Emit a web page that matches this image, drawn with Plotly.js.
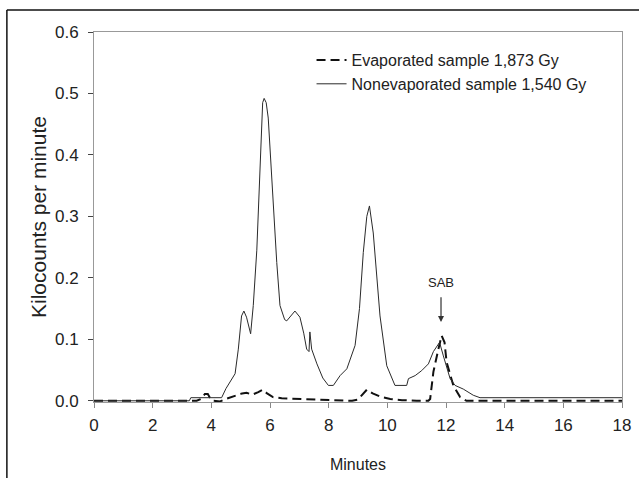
<!DOCTYPE html>
<html><head><meta charset="utf-8">
<script src="https://cdn.plot.ly/plotly-3.0.1.min.js"></script>
<style>html,body{margin:0;padding:0;background:#fff}#c{width:639px;height:478px}</style>
</head><body><div id="c"></div>
<script>
const solidName = "Nonevaporated sample 1,540 Gy";
const dashName = "Evaporated sample 1,873 Gy";
const solidX = [0, 3.25, 3.3, 4.35, 4.5, 4.69, 4.81, 4.92, 5.03, 5.11, 5.2, 5.34, 5.43, 5.55, 5.66, 5.75, 5.8, 5.87, 5.94, 6.06, 6.23, 6.34, 6.5, 6.57, 6.7, 6.85, 7.02, 7.15, 7.25, 7.33, 7.36, 7.42, 7.6, 7.8, 7.99, 8.16, 8.39, 8.62, 8.9, 9.05, 9.18, 9.3, 9.39, 9.52, 9.75, 9.98, 10.26, 10.66, 10.72, 10.95, 11.17, 11.4, 11.57, 11.74, 11.78, 11.91, 12.14, 12.31, 12.59, 12.93, 13.16, 18];
const solidY = [0, 0, 0.005, 0.005, 0.02, 0.036, 0.044, 0.084, 0.138, 0.146, 0.136, 0.109, 0.155, 0.245, 0.387, 0.485, 0.492, 0.485, 0.46, 0.36, 0.225, 0.155, 0.132, 0.130, 0.137, 0.146, 0.136, 0.11, 0.084, 0.08, 0.112, 0.084, 0.06, 0.037, 0.025, 0.025, 0.041, 0.052, 0.09, 0.15, 0.241, 0.3, 0.317, 0.273, 0.138, 0.057, 0.025, 0.025, 0.036, 0.041, 0.049, 0.06, 0.08, 0.092, 0.095, 0.073, 0.036, 0.025, 0.019, 0.009, 0.005, 0.005];
const dashX = [0, 3.5, 3.65, 3.78, 3.88, 3.95, 4.05, 4.3, 4.5, 4.8, 5.05, 5.2, 5.4, 5.6, 5.75, 5.9, 6.1, 6.4, 7.0, 8.0, 8.8, 9.0, 9.15, 9.3, 9.5, 9.8, 10.1, 10.5, 11.0, 11.4, 11.46, 11.57, 11.74, 11.85, 11.95, 12.02, 12.25, 12.48, 12.7, 18];
const dashY = [0, 0, 0.003, 0.011, 0.011, 0.005, 0, -0.001, 0.003, 0.008, 0.012, 0.013, 0.01, 0.014, 0.018, 0.012, 0.006, 0.004, 0.003, 0.001, 0.0, 0.002, 0.01, 0.018, 0.012, 0.006, 0.003, 0.001, 0.0, 0.0, 0.003, 0.047, 0.084, 0.106, 0.095, 0.063, 0.025, 0.006, 0.0, 0.0];
const xTicks = [0, 2, 4, 6, 8, 10, 12, 14, 16, 18];
const yTicks = [0, 0.1, 0.2, 0.3, 0.4, 0.5, 0.6];
const yTickText = ["0.0", "0.1", "0.2", "0.3", "0.4", "0.5", "0.6"];
const annText = "SAB";
const annX = 11.83, annY = 0.193, arrowTipY = 0.128, arrowTailY = 0.171;

const font = "Liberation Sans, Arial, sans-serif";
const traces = [
  {x: dashX, y: dashY, name: dashName, mode: "lines", line: {color: "#111", width: 2, dash: "9px,5px"}},
  {x: solidX, y: solidY, name: solidName, mode: "lines", line: {color: "#2a2a2a", width: 1}}
];
const layout = {
  width: 639, height: 478,
  margin: {l: 94, r: 17, t: 32, b: 76},
  paper_bgcolor: "#fff", plot_bgcolor: "#fff",
  font: {family: font, size: 16, color: "#222"},
  showlegend: true,
  legend: {x: 0.412, y: 0.97, xanchor: "left", yanchor: "top", bgcolor: "rgba(0,0,0,0)",
           font: {family: font, size: 16, color: "#222"}, tracegroupgap: 0, itemwidth: 30},
  xaxis: {range: [0, 18], tickvals: xTicks, ticks: "outside", ticklen: 5, tickcolor: "#888",
          showline: true, linecolor: "#999", linewidth: 1, mirror: true, showgrid: false, zeroline: false,
          ticklabelstandoff: 3,
          tickfont: {family: font, size: 17, color: "#222"},
          title: {text: "Minutes", font: {family: font, size: 16, color: "#222"}, standoff: 24}},
  yaxis: {range: [-0.002, 0.6], tickvals: yTicks, ticktext: yTickText, ticks: "outside", ticklen: 5, tickcolor: "#444",
          showline: true, linecolor: "#999", linewidth: 1, mirror: true, showgrid: false, zeroline: false,
          ticklabelstandoff: 6,
          tickfont: {family: font, size: 17, color: "#222"},
          title: {text: "Kilocounts per minute", font: {family: font, size: 21, color: "#222"}, standoff: 2}},
  annotations: [
    {x: annX, y: annY, text: annText, showarrow: false, font: {family: font, size: 13, color: "#222"}},
    {x: annX, y: arrowTipY, ax: annX, ay: arrowTailY, axref: "x", ayref: "y", xref: "x", yref: "y",
     text: "", showarrow: true, arrowhead: 2, arrowsize: 1, arrowwidth: 1.2, arrowcolor: "#333"}
  ],
  shapes: [
    {type: "line", xref: "paper", yref: "paper", x0: -0.165, x1: 1.1, y0: 1.0595, y1: 1.0595, line: {color: "#111", width: 1.5}},
    {type: "line", xref: "paper", yref: "paper", x0: -0.165, x1: -0.165, y0: 1.0595, y1: -0.25, line: {color: "#111", width: 1.5}}
  ]
};
Plotly.newPlot("c", traces, layout, {displayModeBar: false, staticPlot: true});
</script></body></html>
